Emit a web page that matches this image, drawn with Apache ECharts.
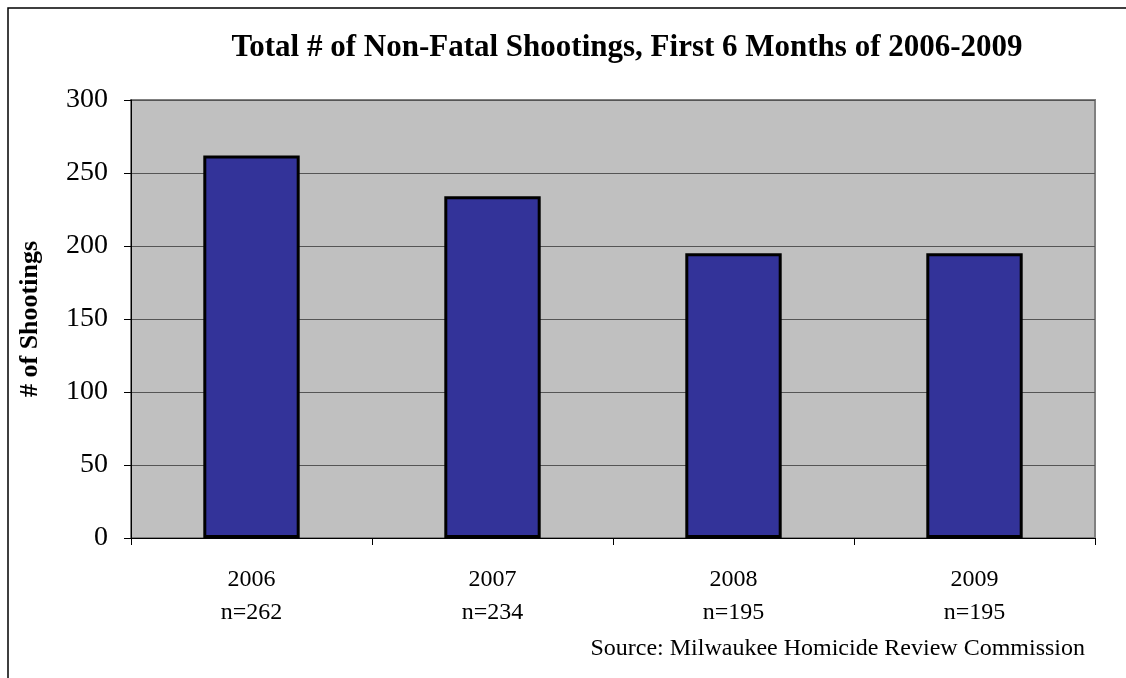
<!DOCTYPE html>
<html><head><meta charset="utf-8">
<script src="https://cdn.jsdelivr.net/npm/echarts@6/dist/echarts.min.js"></script>
<style>html,body{margin:0;padding:0;background:#fff}#c{width:1126px;height:678px}</style>
</head><body><div id="c"></div>
<script>
const years = ['2006', '2007', '2008', '2009'];
const shootings = [262, 234, 195, 195];
const yTicks = [0, 50, 100, 150, 200, 250, 300];
const titleText = 'Total # of Non-Fatal Shootings, First 6 Months of 2006-2009';
const yName = '# of Shootings';
const sourceText = 'Source: Milwaukee Homicide Review Commission';

const font = '"Liberation Serif", "DejaVu Serif", serif';
const cats = years.map((y, i) => y + '\nn=' + shootings[i]);
const chart = echarts.init(document.getElementById('c'));
chart.setOption({
  backgroundColor: '#fff',
  animation: false,
  title: {
    text: titleText, left: 622, top: 27, textAlign: 'center',
    textStyle: {fontFamily: font, fontWeight: 'bold', fontSize: 31, color: '#000'}
  },
  grid: {left: 131, right: 31, top: 100, bottom: 140, show: true, backgroundColor: '#C0C0C0', borderColor: '#808080', borderWidth: 2},
  xAxis: {
    type: 'category', data: cats,
    axisLine: {show: true, lineStyle: {color: '#000', width: 1}},
    axisTick: {show: true, alignWithLabel: false, length: 7, lineStyle: {color: '#000'}},
    axisLabel: {fontFamily: font, fontSize: 24, color: '#000', lineHeight: 33, margin: 25}
  },
  yAxis: {
    type: 'value', min: yTicks[0], max: yTicks[yTicks.length - 1], interval: 50,
    name: yName, nameLocation: 'middle', nameGap: 88, nameRotate: 90,
    nameTextStyle: {fontFamily: font, fontWeight: 'bold', fontSize: 26, color: '#000'},
    axisLine: {show: true, lineStyle: {color: '#000', width: 1}},
    axisTick: {show: true, length: 7, lineStyle: {color: '#000'}},
    axisLabel: {fontFamily: font, fontSize: 28, color: '#000', margin: 23},
    splitLine: {show: true, lineStyle: {color: '#555', width: 1}}
  },
  series: [{
    type: 'bar', data: shootings, barWidth: '40%',
    itemStyle: {color: '#333399', borderColor: '#000', borderWidth: 3}
  }],
  graphic: [
    {type: 'rect', shape: {x: 8, y: 8, width: 1200, height: 800}, style: {fill: 'none', stroke: '#000', lineWidth: 1.5}, silent: true, z: -1},
    {type: 'text', right: 41, top: 637, style: {text: sourceText, font: '24px ' + font, fill: '#000'}}
  ]
});
</script></body></html>
